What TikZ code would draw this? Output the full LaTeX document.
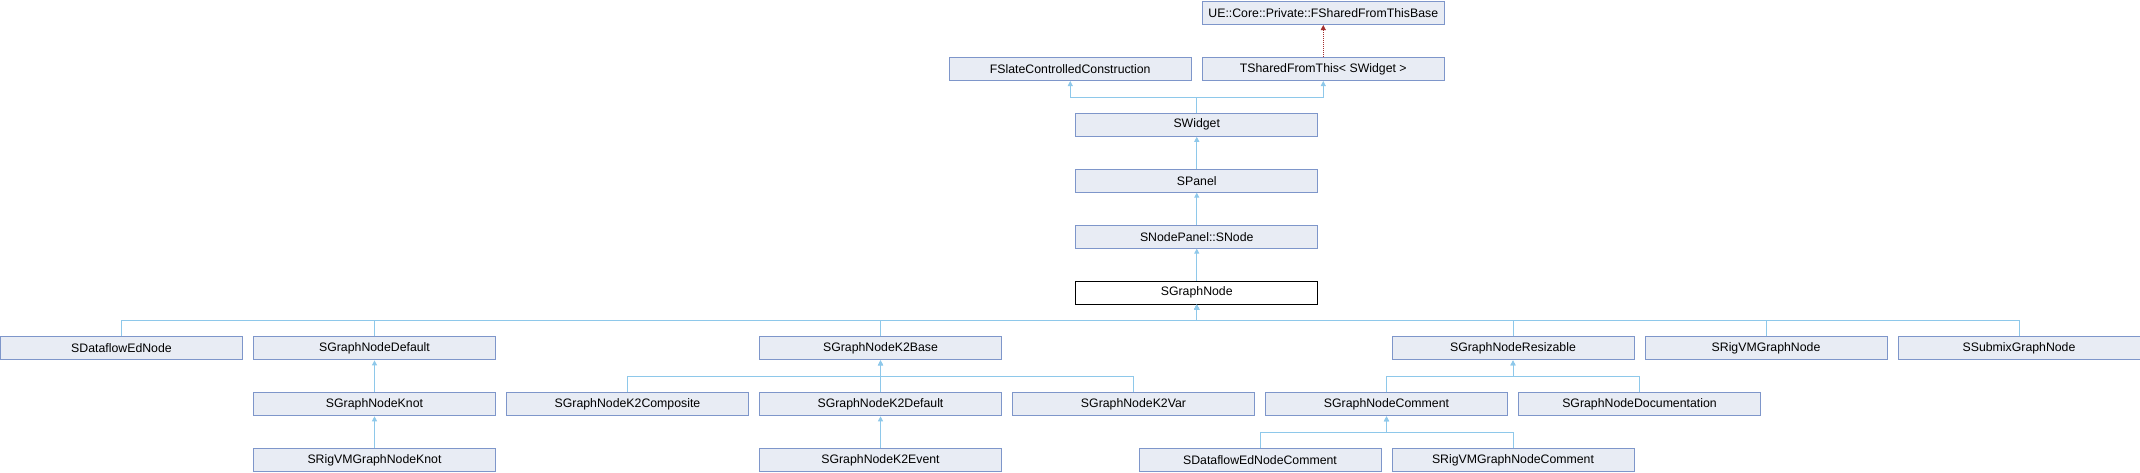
\documentclass[tikz,border=0pt]{standalone}
\definecolor{clsFill}{RGB}{232,236,244}
\definecolor{clsBorder}{RGB}{126,150,202}
\definecolor{inhBlue}{RGB}{142,200,234}
\definecolor{privRed}{RGB}{163,48,48}
\usepackage{fontspec}
\setmainfont{Liberation Sans}
\usepackage{tikz}
\usetikzlibrary{arrows.meta,positioning,calc}

\begin{document}
\begin{tikzpicture}[x=1pt, y=-1pt,
  every node/.style={font=\fontsize{12.3}{14}\selectfont},
  cls/.style={draw=clsBorder, fill=clsFill, line width=1pt, anchor=north west,
    minimum width=242pt, minimum height=23pt, inner sep=0pt},
  cur/.style={cls, draw=black, fill=white},
  inh/.style={draw=inhBlue, line width=1pt, -{Triangle[width=5pt,length=5pt]}},
  priv/.style={draw=privRed, line width=1pt, dash pattern=on 1pt off 1pt,
    -{Triangle[width=5pt,length=5pt,fill=privRed]}}]
  \useasboundingbox (0,0) rectangle (2140,472);
  % Base classes
  \node[cls] (fsharedbase) at (1201.75,1) {UE::Core::Private::FSharedFromThisBase};
  \node[cls] (fslate) at (948.75,57) {FSlateControlledConstruction};
  \node[cls] (tshared) at (1201.75,57) {TSharedFromThis< SWidget >};
  \node[cls] (swidget) at (1075.25,112.8) {SWidget};
  \node[cls] (spanel) at (1075.25,168.7) {SPanel};
  \node[cls] (snode) at (1075.25,224.6) {SNodePanel::SNode};
  \node[cur] (sgraphnode) at (1075.25,280.5) {SGraphNode};
  % Derived classes
  \node[cls] (dataflow) at (0,336.4) {SDataflowEdNode};
  \node[cls] (gndefault) at (253,336.4) {SGraphNodeDefault};
  \node[cls] (k2base) at (759,336.4) {SGraphNodeK2Base};
  \node[cls] (resizable) at (1391.5,336.4) {SGraphNodeResizable};
  \node[cls] (rigvmnode) at (1644.5,336.4) {SRigVMGraphNode};
  \node[cls] (submix) at (1897.5,336.4) {SSubmixGraphNode};
  \node[cls] (knot) at (253,392.3) {SGraphNodeKnot};
  \node[cls] (k2composite) at (506,392.3) {SGraphNodeK2Composite};
  \node[cls] (k2default) at (759,392.3) {SGraphNodeK2Default};
  \node[cls] (k2var) at (1012,392.3) {SGraphNodeK2Var};
  \node[cls] (comment) at (1265,392.3) {SGraphNodeComment};
  \node[cls] (documentation) at (1518,392.3) {SGraphNodeDocumentation};
  \node[cls] (rigvmknot) at (253,448.2) {SRigVMGraphNodeKnot};
  \node[cls] (k2event) at (759,448.2) {SGraphNodeK2Event};
  \node[cls] (dataflowcomment) at (1138.5,448.2) {SDataflowEdNodeComment};
  \node[cls] (rigvmcomment) at (1391.5,448.2) {SRigVMGraphNodeComment};
  % Inheritance
  \draw[priv] (tshared.north) -- (fsharedbase.south);
  \foreach \b in {fslate,tshared}
    \draw[inh] (swidget.north) -- ++(0,-15.5) -| (\b.south);
  \draw[inh] (spanel.north) -- (swidget.south);
  \draw[inh] (snode.north) -- (spanel.south);
  \draw[inh] (sgraphnode.north) -- (snode.south);
  \foreach \c in {dataflow,gndefault,k2base,resizable,rigvmnode,submix}
    \draw[inh] (\c.north) -- ++(0,-16) -| (sgraphnode.south);
  \draw[inh] (knot.north) -- (gndefault.south);
  \draw[inh] (rigvmknot.north) -- (knot.south);
  \foreach \c in {k2composite,k2default,k2var}
    \draw[inh] (\c.north) -- ++(0,-16) -| (k2base.south);
  \draw[inh] (k2event.north) -- (k2default.south);
  \foreach \c in {comment,documentation}
    \draw[inh] (\c.north) -- ++(0,-16) -| (resizable.south);
  \foreach \c in {dataflowcomment,rigvmcomment}
    \draw[inh] (\c.north) -- ++(0,-16) -| (comment.south);
\end{tikzpicture}
\end{document}
